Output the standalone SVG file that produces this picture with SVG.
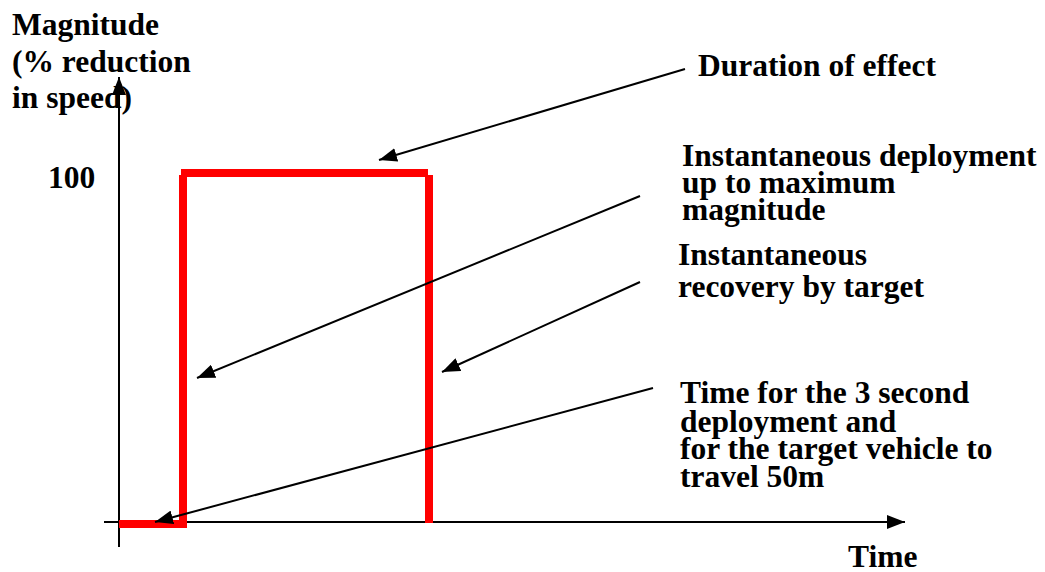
<svg xmlns="http://www.w3.org/2000/svg" width="1045" height="572" viewBox="0 0 1045 572">
<style>
text{font-family:"Liberation Serif","Times New Roman",serif;font-weight:bold;font-size:31.5px;fill:#000}
.ax{stroke:#000;stroke-width:2;fill:none}
.ld{stroke:#000;stroke-width:2;fill:none}
.red{stroke:#ff0000;stroke-width:8;fill:none}
</style>
<defs>
<marker id="ah" markerUnits="userSpaceOnUse" markerWidth="20" markerHeight="14" refX="18" refY="7" orient="auto">
<path d="M0,0 L18,7 L0,14 Z" fill="#000"/>
</marker>
</defs>
<g id="axes">
<line class="ax" x1="119" y1="547" x2="119" y2="77" marker-end="url(#ah)"/>
<line class="ax" x1="104" y1="522" x2="905" y2="522" marker-end="url(#ah)"/>
</g>
<g id="curve">
<line class="red" x1="181" y1="173" x2="428" y2="173"/>
<line class="red" x1="183" y1="175" x2="183" y2="528"/>
<line class="red" x1="429" y1="175" x2="429" y2="523"/>
<line class="red" x1="119" y1="524" x2="187" y2="524"/>
</g>
<g id="labels-axis">
<text x="12" y="35">Magnitude</text>
<text x="12" y="72">(% reduction</text>
<text x="12" y="108">in speed)</text>
<text x="48" y="188">100</text>
<text x="848" y="567">Time</text>
</g>
<g id="node-duration"><text x="698" y="76">Duration of effect</text></g>
<g id="node-deployment">
<text x="682" y="166">Instantaneous deployment</text>
<text x="682" y="193">up to maximum</text>
<text x="682" y="220">magnitude</text>
</g>
<g id="node-recovery">
<text x="678" y="265">Instantaneous</text>
<text x="678" y="297">recovery by target</text>
</g>
<g id="node-time">
<text x="680" y="403">Time for the 3 second</text>
<text x="680" y="432">deployment and</text>
<text x="680" y="459">for the target vehicle to</text>
<text x="680" y="487">travel 50m</text>
</g>
<g id="connectors">
<line class="ld" x1="685" y1="69" x2="379" y2="160" marker-end="url(#ah)"/>
<line class="ld" x1="640" y1="196" x2="197" y2="378" marker-end="url(#ah)"/>
<line class="ld" x1="640" y1="282" x2="442" y2="372" marker-end="url(#ah)"/>
<line class="ld" x1="653" y1="388" x2="155" y2="522" marker-end="url(#ah)"/>
</g>
</svg>
